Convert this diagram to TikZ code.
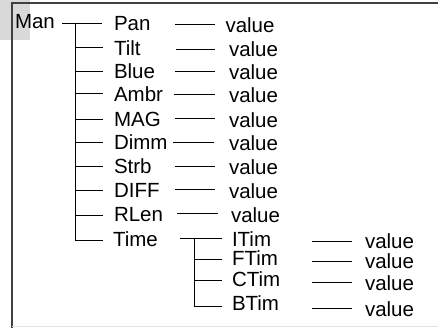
\documentclass[tikz,border=0pt]{standalone}
\usepackage{fontspec}
\setmainfont{Liberation Sans}
\definecolor{frameline}{HTML}{404040}
\definecolor{lightline}{HTML}{E2E2E2}
\definecolor{cornerfill}{HTML}{D9D9D9}
\begin{document}
\begin{tikzpicture}[x=1pt,y=-1pt,
  lbl/.style={anchor=base west,inner sep=0pt,outer sep=0pt,font=\fontsize{20.5}{24}\selectfont},
  conn/.style={draw=black,line width=0.9pt},
  framestyle/.style={draw=frameline,line width=1.6pt}]
\useasboundingbox (0,0) rectangle (438,328);
% corner shade and frame
\fill[cornerfill] (0,0) rectangle (30,40);
\coordinate (fTL) at (12,2.8);
\coordinate (fTR) at (438,2.8);
\coordinate (fBL) at (12,328);
\coordinate (bL) at (12,326.5);
\coordinate (bR) at (438,326.5);
\draw[framestyle] (fTR) -- (fTL) -- (fBL);
\draw[lightline,line width=1pt] (bL) -- (bR);
% root
\node[lbl] (man) at (15,28.3) {Man};
% main items
\node[lbl] (pan)  at (114,30.7)  {Pan};
\node[lbl] (tilt) at (114,56)    {Tilt};
\node[lbl] (blue) at (114,78.3)  {Blue};
\node[lbl] (ambr) at (114,101.7) {Ambr};
\node[lbl] (mag)  at (114,126.7) {MAG};
\node[lbl] (dimm) at (114,149.3) {Dimm};
\node[lbl] (strb) at (114,173.3) {Strb};
\node[lbl] (diff) at (114,197.3) {DIFF};
\node[lbl] (rlen) at (114,221.7) {RLen};
\node[lbl] (time) at (113,246)   {Time};
% values
\node[lbl] (vpan)  at (225.5,32.3) {value};
\node[lbl] (vtilt) at (229,56.8)   {value};
\node[lbl] (vblue) at (229,79.1)   {value};
\node[lbl] (vambr) at (229,102.4)  {value};
\node[lbl] (vmag)  at (229,127.5)  {value};
\node[lbl] (vdimm) at (229,150.1)  {value};
\node[lbl] (vstrb) at (229,174.1)  {value};
\node[lbl] (vdiff) at (229,198.1)  {value};
\node[lbl] (vrlen) at (231,222.5)  {value};
% sub items
\node[lbl] (itim) at (232,246)   {ITim};
\node[lbl] (ftim) at (232,265)   {FTim};
\node[lbl] (ctim) at (232,286.7) {CTim};
\node[lbl] (btim) at (232,310.5) {BTim};
\node[lbl] (vitim) at (365,248.3) {value};
\node[lbl] (vftim) at (365,268.3) {value};
\node[lbl] (vctim) at (365,290.7) {value};
\node[lbl] (vbtim) at (365,316)   {value};
% main tree connectors
\coordinate (m0) at (62,23);
\coordinate (m1) at (102,23);
\coordinate (trunkTop) at (75,23);
\coordinate (trunkBot) at (75,240);
\draw[conn] (m0) -- (m1);
\draw[conn] (trunkTop) -- (trunkBot) -- (102.5,240);
\foreach \yy in {47.7,71,93,119,142,166,190,215}
  \draw[conn] (75,\yy) -- (102.5,\yy);
% value connectors
\foreach \ya/\xa/\xb in {24/175/215,49/176/215,71/175/215,94/174/215,118.5/175/215,142/173/214,166/175/215,189.5/175/215,213.5/177/218}
  \draw[conn] (\xa,\ya) -- (\xb,\ya);
% sub tree
\coordinate (s0) at (180,238.5);
\coordinate (s1) at (222,238.5);
\coordinate (subTop) at (194,238.5);
\coordinate (subBot) at (194,306);
\draw[conn] (s0) -- (s1);
\draw[conn] (subTop) -- (subBot) -- (222,306);
\foreach \yy in {259,280}
  \draw[conn] (194,\yy) -- (222,\yy);
\foreach \yy in {241.7,261.5,282.7,308.3}
  \draw[conn] (311.5,\yy) -- (351.5,\yy);
\end{tikzpicture}
\end{document}
